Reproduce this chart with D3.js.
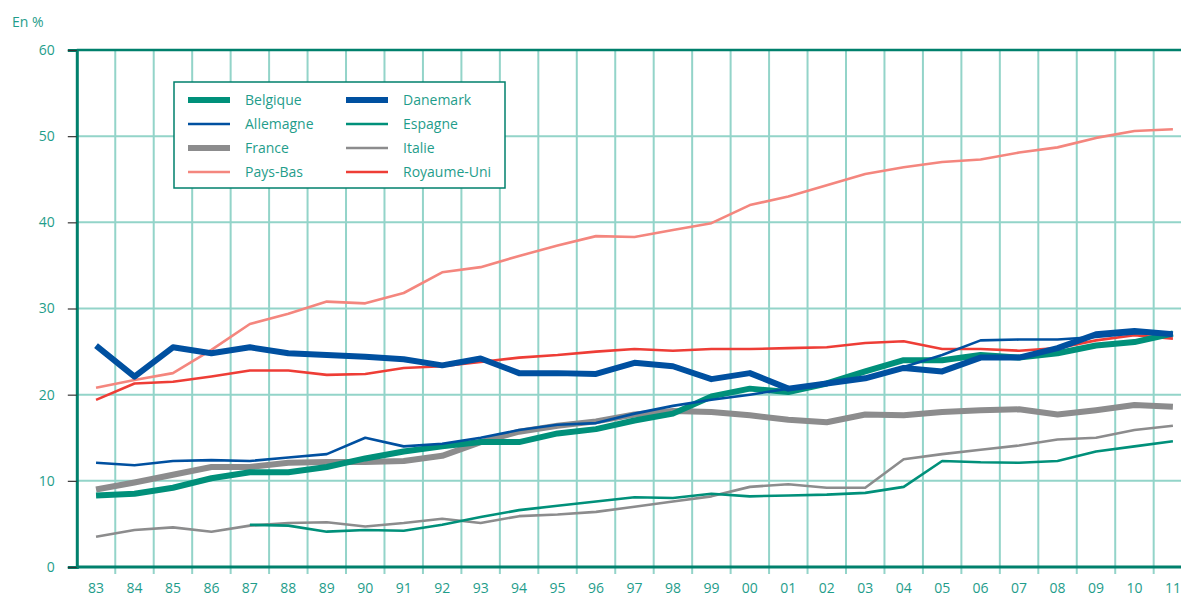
<!DOCTYPE html>
<html>
<head>
<meta charset="utf-8">
<script src="https://cdn.jsdelivr.net/npm/d3@7"></script>
<style>
  body { margin: 0; background: #fff; }
  text { font-family: "Open Sans", "Noto Sans", sans-serif; }
</style>
</head>
<body>
<svg width="1181" height="597"></svg>
<script>
// years shown on the x axis
var years = ["83","84","85","86","87","88","89","90","91","92","93","94","95","96","97",
             "98","99","00","01","02","03","04","05","06","07","08","09","10","11"];
var yTicks = [0, 10, 20, 30, 40, 50, 60];

// values (En %)
var belgique  = [8.3, 8.5, 9.2, 10.3, 11.0, 11.0, 11.6, 12.6, 13.4, 14.0, 14.5, 14.5, 15.5, 16.0, 17.0,
                 17.8, 19.8, 20.7, 20.3, 21.3, 22.7, 24.0, 24.0, 24.6, 24.3, 24.8, 25.7, 26.1, 27.1];
var danemark  = [25.7, 22.1, 25.5, 24.8, 25.5, 24.8, 24.6, 24.4, 24.1, 23.4, 24.2, 22.5, 22.5, 22.4, 23.7,
                 23.3, 21.8, 22.5, 20.7, 21.3, 21.9, 23.1, 22.7, 24.3, 24.3, 25.4, 27.0, 27.4, 27.0];
var allemagne = [12.1, 11.8, 12.3, 12.4, 12.3, 12.7, 13.1, 15.0, 14.0, 14.3, 15.0, 15.9, 16.5, 16.7, 17.8,
                 18.7, 19.4, 20.0, 20.7, 21.3, 22.0, 23.2, 24.6, 26.3, 26.4, 26.4, 26.7, 27.1, 27.1];
var espagne   = [null, null, null, null, 4.9, 4.8, 4.1, 4.3, 4.2, 4.9, 5.8, 6.6, 7.1, 7.6, 8.1,
                 8.0, 8.5, 8.2, 8.3, 8.4, 8.6, 9.3, 12.3, 12.15, 12.1, 12.3, 13.4, 14.0, 14.6];
var france    = [9.0, 9.8, 10.7, 11.6, 11.6, 12.1, 12.2, 12.2, 12.3, 12.9, 14.5, 15.7, 16.4, 16.9, 17.7,
                 18.1, 18.0, 17.6, 17.1, 16.8, 17.7, 17.6, 18.0, 18.2, 18.3, 17.7, 18.2, 18.8, 18.6];
var italie    = [3.5, 4.3, 4.6, 4.1, 4.8, 5.1, 5.2, 4.7, 5.1, 5.6, 5.1, 5.9, 6.1, 6.4, 7.0,
                 7.6, 8.2, 9.3, 9.6, 9.2, 9.2, 12.5, 13.1, 13.6, 14.1, 14.8, 15.0, 15.9, 16.4];
var paysBas   = [20.8, 21.7, 22.5, 25.2, 28.2, 29.4, 30.8, 30.6, 31.8, 34.2, 34.8, 36.1, 37.3, 38.4, 38.3,
                 39.1, 39.9, 42.0, 43.0, 44.3, 45.6, 46.4, 47.0, 47.3, 48.1, 48.7, 49.8, 50.6, 50.8];
var royaumeUni = [19.4, 21.3, 21.5, 22.1, 22.8, 22.8, 22.3, 22.4, 23.1, 23.3, 23.8, 24.3, 24.6, 25.0, 25.3,
                  25.1, 25.3, 25.3, 25.4, 25.5, 26.0, 26.2, 25.3, 25.3, 25.1, 25.4, 26.3, 26.9, 26.5];

var teal = "#00907a", blue = "#0050a0", grey = "#8c8c8d", salmon = "#f4867e", red = "#ee3d36";
var textCol = "#1f9d8b", gridCol = "#93d4c9", axisCol = "#00806c";

var series = [
  { name: "Pays-Bas",    values: paysBas,    color: salmon, width: 2.6 },
  { name: "Royaume-Uni", values: royaumeUni, color: red,    width: 2.6 },
  { name: "Italie",      values: italie,     color: grey,   width: 2.6 },
  { name: "Espagne",     values: espagne,    color: teal,   width: 2.6 },
  { name: "France",      values: france,     color: grey,   width: 6 },
  { name: "Belgique",    values: belgique,   color: teal,   width: 6 },
  { name: "Allemagne",   values: allemagne,  color: blue,   width: 2.6 },
  { name: "Danemark",    values: danemark,   color: blue,   width: 6 }
];

var svg = d3.select("svg");

var x = d3.scaleBand().domain(years).range([76.8, 76.8 + 29 * 38.46]).padding(0);
var y = d3.scaleLinear().domain([0, 60]).range([567, 50]);

// grid
var grid = svg.append("g");
grid.selectAll(".hg")
  .data(yTicks.slice(1, -1))
  .enter().append("line")
  .attr("x1", x.range()[0]).attr("x2", 1181)
  .attr("y1", function (d) { return y(d); }).attr("y2", function (d) { return y(d); })
  .attr("stroke", gridCol).attr("stroke-width", 2);

grid.selectAll(".vg")
  .data(years.slice(1))
  .enter().append("line")
  .attr("x1", function (d) { return x(d); }).attr("x2", function (d) { return x(d); })
  .attr("y1", y(60)).attr("y2", y(0))
  .attr("stroke", gridCol).attr("stroke-width", 2);

// top border
svg.append("line")
  .attr("x1", x.range()[0]).attr("x2", 1181)
  .attr("y1", y(60)).attr("y2", y(60))
  .attr("stroke", axisCol).attr("stroke-width", 2.5);

// lines
var line = d3.line()
  .defined(function (d) { return d != null; })
  .x(function (d, i) { return x(years[i]) + x.bandwidth() / 2; })
  .y(function (d) { return y(d); });

svg.append("g").selectAll("path")
  .data(series)
  .enter().append("path")
  .attr("d", function (d) { return line(d.values); })
  .attr("fill", "none")
  .attr("stroke", function (d) { return d.color; })
  .attr("stroke-width", function (d) { return d.width; })
  .attr("stroke-linejoin", "round");

// y axis
var yAxis = svg.append("g")
  .attr("transform", "translate(" + x.range()[0] + ",0)")
  .call(d3.axisLeft(y).tickValues(yTicks).tickSize(9).tickPadding(13));
yAxis.select(".domain").attr("stroke", axisCol).attr("stroke-width", 3);
yAxis.selectAll(".tick line").attr("stroke", "#333").attr("stroke-width", 1.2);
yAxis.selectAll(".tick text").attr("fill", textCol).style("font-size", "14px");

// x axis
var xTickAx = svg.append("g")
  .attr("transform", "translate(0," + y(0) + ")")
  .call(d3.axisBottom(x).tickValues(years.slice(1)).tickSize(7).tickFormat(""));
xTickAx.select(".domain").remove();
xTickAx.selectAll(".tick line")
  .attr("transform", function () { return "translate(" + (-x.bandwidth() / 2) + ",0)"; })
  .attr("stroke", gridCol).attr("stroke-width", 2);

var xAxis = svg.append("g")
  .attr("transform", "translate(0," + y(0) + ")")
  .call(d3.axisBottom(x).tickSize(0).tickPadding(16));
xAxis.select(".domain").remove();
xAxis.selectAll(".tick text").attr("fill", textCol).style("font-size", "14px");

svg.append("line")
  .attr("x1", x.range()[0]).attr("x2", 1181)
  .attr("y1", y(0)).attr("y2", y(0))
  .attr("stroke", axisCol).attr("stroke-width", 3);

svg.append("text")
  .attr("x", 12).attr("y", 27)
  .attr("fill", textCol)
  .style("font-size", "14px")
  .text("En %");

// legend
var legendItems = [
  { name: "Belgique",    color: teal,   width: 6 },
  { name: "Danemark",    color: blue,   width: 6 },
  { name: "Allemagne",   color: blue,   width: 2.6 },
  { name: "Espagne",     color: teal,   width: 2.6 },
  { name: "France",      color: grey,   width: 6 },
  { name: "Italie",      color: grey,   width: 2.6 },
  { name: "Pays-Bas",    color: salmon, width: 2.6 },
  { name: "Royaume-Uni", color: red,    width: 2.6 }
];

var legend = svg.append("g").attr("transform", "translate(174,82)");
legend.append("rect")
  .attr("width", 331).attr("height", 106)
  .attr("fill", "#fff")
  .attr("stroke", axisCol).attr("stroke-width", 1.5);

var li = legend.selectAll(".li")
  .data(legendItems)
  .enter().append("g")
  .attr("transform", function (d, i) {
    return "translate(" + (i % 2 ? 172 : 14) + "," + (18 + Math.floor(i / 2) * 24) + ")";
  });
li.append("line")
  .attr("x1", 0).attr("x2", 42)
  .attr("stroke", function (d) { return d.color; })
  .attr("stroke-width", function (d) { return d.width; });
li.append("text")
  .attr("x", 57).attr("y", 5)
  .attr("fill", textCol)
  .style("font-size", "14px")
  .text(function (d) { return d.name; });
</script>
</body>
</html>
